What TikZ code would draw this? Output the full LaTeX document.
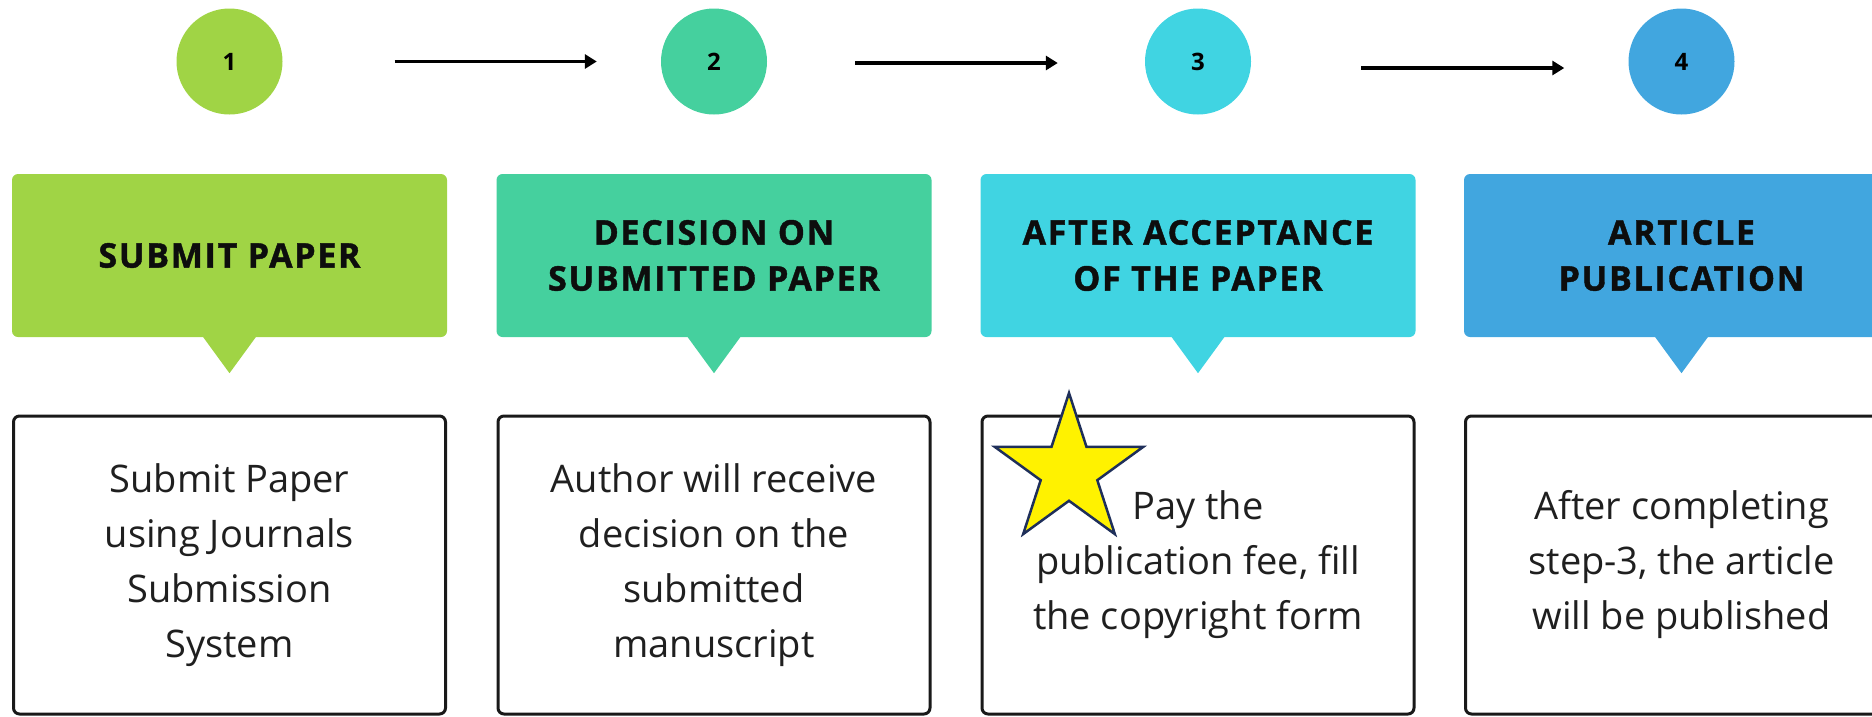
\documentclass[tikz,border=0pt]{standalone}
\usepackage{fontspec}
\setmainfont{Open Sans}
\newfontfamily\headfont[LetterSpace=5,BoldFeatures={FakeBold=1.2}]{Open Sans}
\usetikzlibrary{arrows.meta,shapes.geometric}
\definecolor{stepA}{HTML}{A0D445}
\definecolor{stepB}{HTML}{45D09E}
\definecolor{stepC}{HTML}{40D4E2}
\definecolor{stepD}{HTML}{41A6DF}
\definecolor{starline}{HTML}{1F2F5A}
\begin{document}
\begin{tikzpicture}[x=1pt,y=1pt,
    num/.style={circle,minimum size=106pt,inner sep=0pt,font=\fontsize{24}{24}\selectfont\bfseries},
    head/.style={rectangle,rounded corners=6pt,minimum width=435pt,minimum height=163pt,inner sep=0pt,align=center,
        text=black!95,font=\headfont\fontsize{34}{46}\selectfont\bfseries},
    body/.style={rectangle,draw=black!90,line width=3pt,rounded corners=6pt,minimum width=432pt,minimum height=298pt,
        align=center,text=black!88,font=\fontsize{38}{55}\selectfont},
    flow/.style={line width=3.5pt,-{Triangle[length=12pt,width=14pt]}}]
    % 枠
    \clip (0,0) rectangle (1872,-716);

    % 番号・見出し・説明
    \foreach \i/\cx/\col/\txt/\desc in {
        1/229.5/stepA/{SUBMIT PAPER}/{Submit Paper\\using Journals\\Submission\\System},
        2/714/stepB/{DECISION ON\\SUBMITTED PAPER}/{Author will receive\\decision on the\\submitted\\manuscript},
        3/1198/stepC/{AFTER ACCEPTANCE\\OF THE PAPER}/{Pay the\\publication fee, fill\\the copyright form},
        4/1681.5/stepD/{ARTICLE\\PUBLICATION}/{After completing\\step-3, the article\\will be published}} {
        \node[num,fill=\col] (c\i) at (\cx,-61.5) {\i};
        \node[head,fill=\col] (h\i) at (\cx,-255.5) {\txt};
        \fill[\col] ([xshift=-27pt,yshift=1pt]h\i.south) -- ([xshift=27pt,yshift=1pt]h\i.south) -- ([yshift=-36pt]h\i.south) -- cycle;
        \node[body] (b\i) at (\cx,-565) {\desc};
    }

    % 矢印
    \draw[flow,shorten <=112pt,shorten >=64pt] (c1.east) -- (c2.west);
    \draw[flow,shorten <=88pt,shorten >=87pt] ([yshift=-1.5pt]c2.east) -- ([yshift=-1.5pt]c3.west);
    \draw[flow,shorten <=110pt,shorten >=64pt] ([yshift=-6.5pt]c3.east) -- ([yshift=-6.5pt]c4.west);

    % 星
    \node[star,star points=5,star point ratio=2.62,minimum size=156pt,inner sep=0pt,
        fill=yellow,draw=starline,line width=2.5pt] (star) at (1069,-471) {};
\end{tikzpicture}
\end{document}
